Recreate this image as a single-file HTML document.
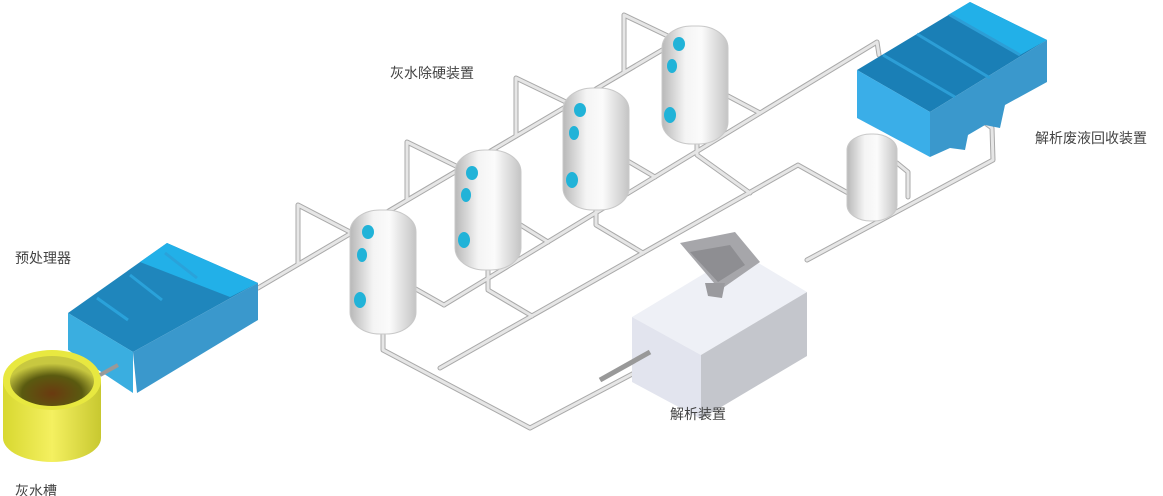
<!DOCTYPE html>
<html><head><meta charset="utf-8"><style>
html,body{margin:0;padding:0;background:#fff;}
.l{position:absolute;font-family:"Liberation Sans","Noto Sans CJK SC",sans-serif;font-size:14px;color:#444;white-space:nowrap;}
</style></head><body>
<div style="position:relative;width:1163px;height:496px;overflow:hidden;">
<svg width="1163" height="496" viewBox="0 0 1163 496" xmlns="http://www.w3.org/2000/svg" style="position:absolute;left:0;top:0">
<defs>
<linearGradient id="tk" x1="0" x2="1" y1="0" y2="0">
<stop offset="0" stop-color="#b8b8b8"/><stop offset="0.35" stop-color="#f4f4f4"/><stop offset="0.6" stop-color="#fbfbfb"/><stop offset="1" stop-color="#c4c4c4"/></linearGradient>
<linearGradient id="yl" x1="0" x2="1"><stop offset="0" stop-color="#d8d830"/><stop offset="0.5" stop-color="#f4f060"/><stop offset="1" stop-color="#c8c830"/></linearGradient>
<radialGradient id="yin" cx="0.5" cy="0.75" r="0.6"><stop offset="0" stop-color="#6a3a10"/><stop offset="0.6" stop-color="#5a5a10"/><stop offset="1" stop-color="#c8c840"/></radialGradient>
</defs>
<g fill="none" stroke-linecap="round" stroke-linejoin="round">
<g id="pp" stroke="#a9a9a9" stroke-width="5">
<path d="M258,288 L669,46"/>
<path d="M298,264 L298,205 L350,232"/>
<path d="M407,200 L407,142 L460,168"/>
<path d="M516,136 L516,78 L570,104"/>
<path d="M624,72 L624,15 L672,38"/>
<path d="M444,305 L877,42 L879,55"/>
<path d="M414,288 L444,305 M519,224 L548,242 M626,160 L655,177 M726,95 L760,113"/>
<path d="M383,333 L383,350 L530,428 L640,370"/>
<path d="M440,368 L798,165 L848,193"/>
<path d="M488,270 L488,290 L532,316 M596,210 L596,225 L643,253 M697,143 L697,155 L750,193"/>
<path d="M807,260 L993,160 L992,128 L977,117"/>
<path d="M897,163 L908,172 L908,197"/>
</g>
<g stroke="#e6e6e6" stroke-width="3">
<path d="M258,288 L669,46"/>
<path d="M298,264 L298,205 L350,232"/>
<path d="M407,200 L407,142 L460,168"/>
<path d="M516,136 L516,78 L570,104"/>
<path d="M624,72 L624,15 L672,38"/>
<path d="M444,305 L877,42 L879,55"/>
<path d="M414,288 L444,305 M519,224 L548,242 M626,160 L655,177 M726,95 L760,113"/>
<path d="M383,333 L383,350 L530,428 L640,370"/>
<path d="M440,368 L798,165 L848,193"/>
<path d="M488,270 L488,290 L532,316 M596,210 L596,225 L643,253 M697,143 L697,155 L750,193"/>
<path d="M807,260 L993,160 L992,128 L977,117"/>
<path d="M897,163 L908,172 L908,197"/>
</g>
</g>
<!-- pretreatment box -->
<polygon points="68,313 167,243 258,283 133,352" fill="#1f86bc"/>
<polygon points="68,313 68,350 133,393 133,352" fill="#3aaee0"/>
<polygon points="133,352 258,283 258,320 137,393" fill="#3a98cc"/>
<polygon points="167,243 258,283 230,297 140,262" fill="#22b0e8"/>
<path d="M97,298 L128,320 M130,275 L162,300 M165,253 L197,278" stroke="#2aa2da" stroke-width="3"/>
<!-- yellow tank -->
<path d="M3,380 L3,438 A49,24 0 0 0 101,438 L101,380 Z" fill="url(#yl)"/>
<ellipse cx="52" cy="380" rx="49" ry="30" fill="#e8e840"/>
<ellipse cx="52" cy="381" rx="42" ry="25" fill="url(#yin)"/>
<path d="M100,375 L118,365" stroke="#999" stroke-width="4"/>
<!-- tanks -->
<g>
<rect x="350" y="210" width="66" height="124" rx="30" ry="22" fill="url(#tk)" stroke="#c8c8c8"/>
<ellipse cx="368" cy="232" rx="6" ry="7" fill="#21b3d8"/><ellipse cx="362" cy="255" rx="5" ry="7" fill="#21b3d8"/><ellipse cx="360" cy="300" rx="6" ry="8" fill="#21b3d8"/>
<rect x="455" y="150" width="66" height="120" rx="30" ry="22" fill="url(#tk)" stroke="#c8c8c8"/>
<ellipse cx="472" cy="173" rx="6" ry="7" fill="#21b3d8"/><ellipse cx="466" cy="195" rx="5" ry="7" fill="#21b3d8"/><ellipse cx="464" cy="240" rx="6" ry="8" fill="#21b3d8"/>
<rect x="563" y="88" width="66" height="122" rx="30" ry="22" fill="url(#tk)" stroke="#c8c8c8"/>
<ellipse cx="580" cy="110" rx="6" ry="7" fill="#21b3d8"/><ellipse cx="574" cy="133" rx="5" ry="7" fill="#21b3d8"/><ellipse cx="572" cy="180" rx="6" ry="8" fill="#21b3d8"/>
<rect x="662" y="26" width="66" height="118" rx="30" ry="22" fill="url(#tk)" stroke="#c8c8c8"/>
<ellipse cx="679" cy="44" rx="6" ry="7" fill="#21b3d8"/><ellipse cx="672" cy="66" rx="5" ry="7" fill="#21b3d8"/><ellipse cx="670" cy="115" rx="6" ry="8" fill="#21b3d8"/>
<rect x="847" y="134" width="50" height="87" rx="24" ry="16" fill="url(#tk)" stroke="#c8c8c8"/>
</g>
<!-- recovery box -->
<polygon points="857,70 970,2 1047,40 930,112" fill="#1a7fb6"/>
<polygon points="857,70 930,112 930,157 857,118" fill="#3aaee8"/>
<polygon points="930,112 1047,40 1047,82 1005,105 1000,128 985,125 968,135 965,150 950,148 930,157" fill="#3a98cc"/>
<polygon points="970,2 1047,40 1020,55 948,15" fill="#22b0e8"/>
<path d="M883,55 L955,97 M917,34 L990,78 M950,15 L1020,55" stroke="#2c9ed6" stroke-width="3"/>
<!-- analyzer -->
<polygon points="632,317 740,252 807,292 701,355" fill="#eef0f6"/>
<polygon points="632,317 632,382 701,419 701,355" fill="#e2e4ee"/>
<polygon points="701,355 807,292 807,356 701,419" fill="#c4c6cc"/>
<polygon points="680,243 735,232 760,262 720,290" fill="#a6a6aa"/>
<polygon points="690,252 730,245 745,265 718,282" fill="#8e8e92"/>
<polygon points="705,283 725,283 722,298 708,296" fill="#9a9a9e"/>
<path d="M600,380 L650,352" stroke="#999" stroke-width="5"/>
</svg>
<div class="l" style="left:390px;top:63px">灰水除硬装置</div>
<div class="l" style="left:15px;top:248px">预处理器</div>
<div class="l" style="left:15px;top:481px">灰水槽</div>
<div class="l" style="left:1035px;top:128px">解析废液回收装置</div>
<div class="l" style="left:670px;top:404px">解析装置</div>
</div>
</body></html>
